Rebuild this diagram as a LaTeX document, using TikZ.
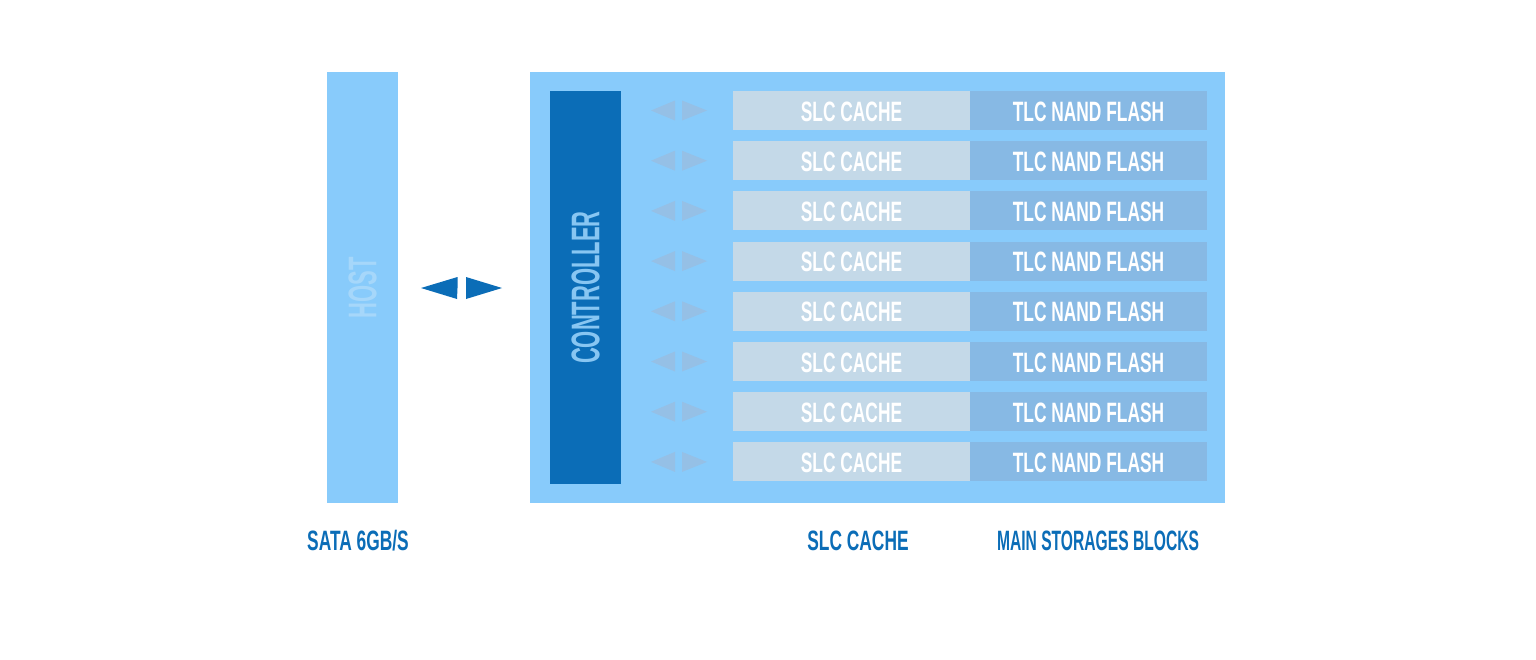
\documentclass[tikz,border=0pt]{standalone}
\usepackage{fontspec}
\newfontfamily\cnd{Liberation Sans}[FakeStretch=0.62]
\newfontfamily\cndv{Liberation Sans}[FakeStretch=0.55]
\definecolor{lb}{HTML}{88CBFB}
\definecolor{dk}{HTML}{0B6DB7}
\definecolor{slc}{HTML}{C4D9E8}
\definecolor{tlc}{HTML}{87B9E4}
\definecolor{sarr}{HTML}{95C0E6}
\definecolor{hosttxt}{HTML}{A6D7FA}
\definecolor{ctltxt}{HTML}{88C6F2}
\begin{document}
\begin{tikzpicture}[x=0.5pt,y=-0.5pt,
  blk/.style={draw=none, inner sep=0pt, outer sep=0pt, anchor=north west},
  celltxt/.style={text=white, font=\cnd\bfseries\fontsize{14}{14}\selectfont},
  lbl/.style={text=dk, font=\cnd\bfseries\fontsize{14}{14}\selectfont},
  vtxt/.style={rotate=90, font=\cndv\bfseries\fontsize{20}{20}\selectfont}]
\useasboundingbox[fill=white] (0,0) rectangle (1536,659);
% host
\node[blk, fill=lb, minimum width=35.5pt, minimum height=215.5pt] (host) at (327,72) {};
\node[vtxt, text=hosttxt] (hostlbl) at (host.center) {HOST};
% outer drive box
\node[blk, fill=lb, minimum width=347.5pt, minimum height=215.5pt] (drive) at (530,72) {};
% controller
\node[blk, fill=dk, minimum width=35.5pt, minimum height=196.5pt] (ctl) at (550,91) {};
\node[vtxt, text=ctltxt] (ctllbl) at (ctl.center) {CONTROLLER};
% big bidirectional arrow between host and drive
\coordinate (bigc) at (461.5,288);
\fill[dk] ([xshift=-2pt]bigc) -- ++(0,-11) -- (421,288) -- (457,299) -- cycle;
\fill[dk] ([xshift=2.25pt]bigc) -- ++(0,-11) -- (502,288) -- (466,299) -- cycle;
% rows
\foreach \i in {0,...,7}{
  \pgfmathsetmacro{\yy}{91+\i*50.2}
  \node[blk, fill=slc, minimum width=118.5pt, minimum height=19.5pt] (s\i) at (733,\yy) {};
  \node[blk, fill=tlc, minimum width=118.5pt, minimum height=19.5pt] (t\i) at (970,\yy) {};
  \node[celltxt] at ([yshift=-0.5pt]s\i.center) {SLC CACHE};
  \node[celltxt] at ([yshift=-0.5pt]t\i.center) {TLC NAND FLASH};
  \coordinate (a\i) at (679,\yy+19.5);
  \fill[sarr] ([xshift=-2pt]a\i) ++(0,-10) -- (651,\yy+19.5) -- ([xshift=-2pt,yshift=-5pt]a\i) -- cycle;
  \fill[sarr] ([xshift=1.5pt]a\i) ++(0,-10) -- (707,\yy+19.5) -- ([xshift=1.5pt,yshift=-5pt]a\i) -- cycle;
}
% bottom labels
\node[lbl] (l1) at (358,541) {SATA 6GB/S};
\node[lbl] (l2) at (858,541) {SLC CACHE};
\node[lbl] (l3) at (1098,541) {\scalebox{0.9}[1]{MAIN STORAGES BLOCKS}};
\end{tikzpicture}
\end{document}
